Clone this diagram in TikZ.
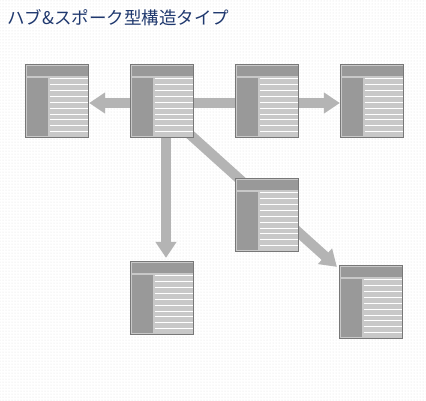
\documentclass[tikz,border=0pt]{standalone}
\usepackage{fontspec}
\newfontfamily\jpfont{Noto Sans CJK JP}
\usepackage{tikz}
\usetikzlibrary{arrows.meta,patterns,calc,backgrounds}
\definecolor{spokegray}{RGB}{180,180,180}
\definecolor{pageedge}{RGB}{120,120,120}
\definecolor{pagefill}{RGB}{200,200,200}
\definecolor{pagedark}{RGB}{153,153,153}
\definecolor{titleblue}{RGB}{31,56,110}
\pgfdeclarelayer{dots}
\pgfsetlayers{dots,background,main}
% header, side column and text lines of one page
\newcommand{\pagedeco}[1]{%
  \begin{scope}[shift={(#1.north west)}]
    \fill[pagedark] (1.8,1.8) rectangle (62.6,11.8);
    \fill[pagedark] (1.8,13.8) rectangle (22.8,71.6);
    \foreach \i in {0,...,9}
      \draw[white, line width=1pt] (24.8,{15+5.85*\i}) -- (62.6,{15+5.85*\i});
  \end{scope}}

\begin{document}
\begin{tikzpicture}[x=1pt,y=-1pt,
  page/.style={draw=pageedge, line width=1.2pt, fill=pagefill,
    minimum width=63pt, minimum height=73pt, inner sep=0pt},
  spoke/.style={draw=spokegray, line width=10pt,
    -{Triangle[width=20pt,length=16pt]}}]
  \useasboundingbox (0,0) rectangle (426,400);
  \begin{pgfonlayer}{dots}
    \fill[white] (0,0) rectangle (426,400);
    \fill[pattern=dots, pattern color=black!13] (0,0) rectangle (426,400);
  \end{pgfonlayer}

  \node[anchor=west, text=titleblue, inner sep=0pt,
    font=\jpfont\fontsize{17.5}{20}\selectfont] (title) at (7,18) {ハブ\&スポーク型構造タイプ};

  % hub and spokes
  \node[page] (hub) at (162,101) {};
  \node[page] (left) at (57,101) {};
  \node[page] (mid) at (267,101) {};
  \node[page] (right) at (372,101) {};
  \node[page] (diag) at (267,215) {};
  \node[page] (down) at (162,298) {};
  \node[page] (far) at (371,302) {};
  \foreach \p in {hub,left,mid,right,diag,down,far} {\pagedeco{\p}}

  \begin{scope}[on background layer]
    \draw[spoke] ($(hub.center)+(0,2)$) -- ($(left.east)+(0,2)$);
    \draw[spoke] ($(hub.center)+(0,2)$) -- ($(right.west)+(0,2)$);
    \draw[spoke, shorten >=3pt] ($(hub.center)+(4,0)$) -- ($(down.north)+(4,0)$);
    \draw[spoke] ($(hub.center)+(13,20)$) -- ($(far.north west)+(-2,2)$);
  \end{scope}
\end{tikzpicture}
\end{document}
